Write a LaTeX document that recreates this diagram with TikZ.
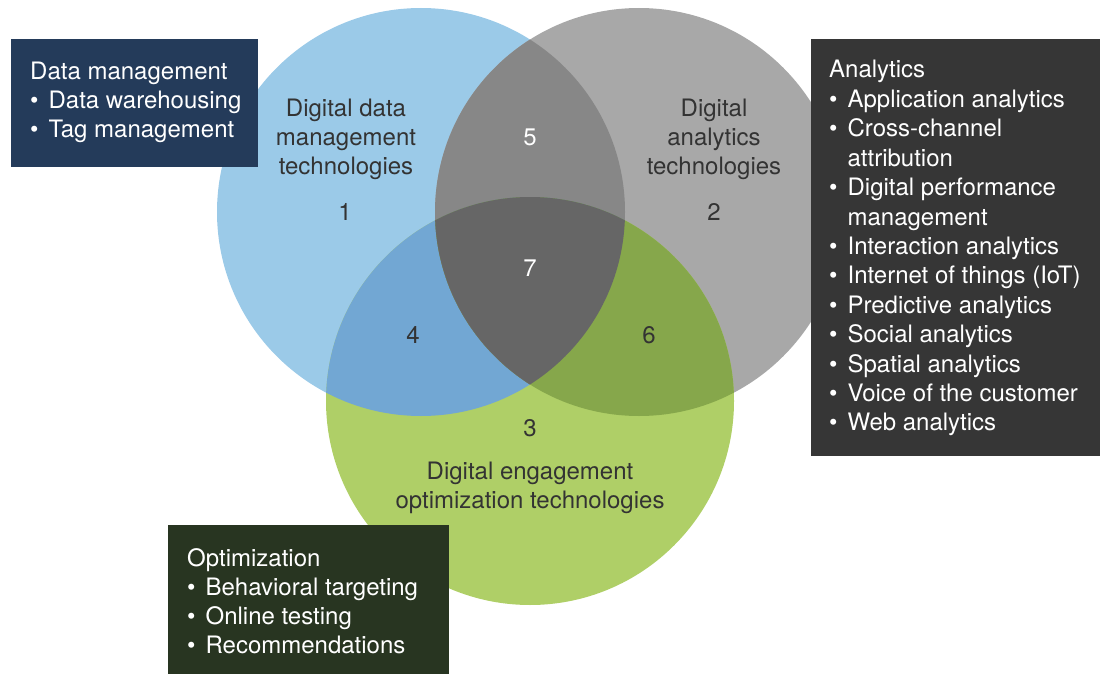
\documentclass[tikz,border=0pt]{standalone}
\usepackage{fontspec}
\setmainfont{TeX Gyre Heros}
\definecolor{blueC}{HTML}{9BCAE8}
\definecolor{greyC}{HTML}{A8A8A8}
\definecolor{greenC}{HTML}{AFCF67}
\definecolor{bgC}{HTML}{878787}
\definecolor{beC}{HTML}{72A7D3}
\definecolor{geC}{HTML}{86A74B}
\definecolor{allC}{HTML}{666666}
\definecolor{navyBox}{HTML}{243B5A}
\definecolor{darkBox}{HTML}{363636}
\definecolor{greenBox}{HTML}{283521}
\definecolor{txtDark}{HTML}{333333}
\newcommand\bul{•\hspace{10pt}}
\newcommand\ind{\phantom{•}\hspace{10pt}}
\begin{document}
\begin{tikzpicture}[x=1pt,y=-1pt,
  lbl/.style={inner sep=0pt, font=\fontsize{24}{29}\selectfont},
  boxtext/.style={lbl, anchor=base west, text=white},
  circtext/.style={lbl, anchor=base, text=txtDark},
  numw/.style={lbl, anchor=base, text=white}]
\useasboundingbox (0,0) rectangle (1100,674);
\coordinate (B) at (421,212);
\coordinate (G) at (639,212);
\coordinate (E) at (530,401);
\def\R{204pt}
% circles
\fill[blueC] (B) circle[radius=\R];
\fill[greyC] (G) circle[radius=\R];
\fill[greenC] (E) circle[radius=\R];
\begin{scope}
  \clip (B) circle[radius=\R];
  \fill[bgC] (G) circle[radius=\R];
  \fill[beC] (E) circle[radius=\R];
  \clip (G) circle[radius=\R];
  \fill[allC] (E) circle[radius=\R];
\end{scope}
\begin{scope}
  \clip (G) circle[radius=\R];
  \clip (E) circle[radius=\R];
  \fill[geC] (B) ++(-250,-250) rectangle (900,700);
  \clip (B) circle[radius=\R];
  \fill[allC] (E) circle[radius=\R];
\end{scope}
% circle labels
\node[circtext] (dd1) at (346,117) {Digital data};
\node[circtext] (dd2) at (346,146) {management};
\node[circtext] (dd3) at (346,175) {technologies};
\node[circtext] (n1) at (345,220) {1};
\node[circtext] (da1) at (714,117) {Digital};
\node[circtext] (da2) at (714,146) {analytics};
\node[circtext] (da3) at (714,175) {technologies};
\node[circtext] (n2) at (714,220) {2};
\node[numw] (n5) at (530,146) {5};
\node[numw] (n7) at (530,276) {7};
\node[circtext] (n4) at (413,343) {4};
\node[circtext] (n6) at (649,343) {6};
\node[circtext] (n3) at (530,436) {3};
\node[circtext] (de1) at (530,479) {Digital engagement};
\node[circtext] (de2) at (530,508) {optimization technologies};
% boxes
\fill[navyBox] (11,39) rectangle (258,167);
\fill[darkBox] (811,39) rectangle (1100,456);
\fill[greenBox] (168,525) rectangle (449,674);
% data management
\foreach \t [count=\i from 0] in {Data management, {\bul Data warehousing}, {\bul Tag management}}
  \node[boxtext] (dm\i) at (30,79.5+29*\i) {\t};
% analytics
\foreach \t [count=\i from 0] in {Analytics, {\bul Application analytics}, {\bul Cross-channel},
  {\ind attribution}, {\bul Digital performance}, {\ind management},
  {\bul Interaction analytics}, {\bul Internet of things (IoT)}, {\bul Predictive analytics},
  {\bul Social analytics}, {\bul Spatial analytics}, {\bul Voice of the customer}, {\bul Web analytics}}
  \node[boxtext] (an\i) at (829,78+29.4*\i) {\t};
% optimization
\foreach \t [count=\i from 0] in {Optimization, {\bul Behavioral targeting}, {\bul Online testing}, {\bul Recommendations}}
  \node[boxtext] (op\i) at (187,566+29.3*\i) {\t};
\end{tikzpicture}
\end{document}
